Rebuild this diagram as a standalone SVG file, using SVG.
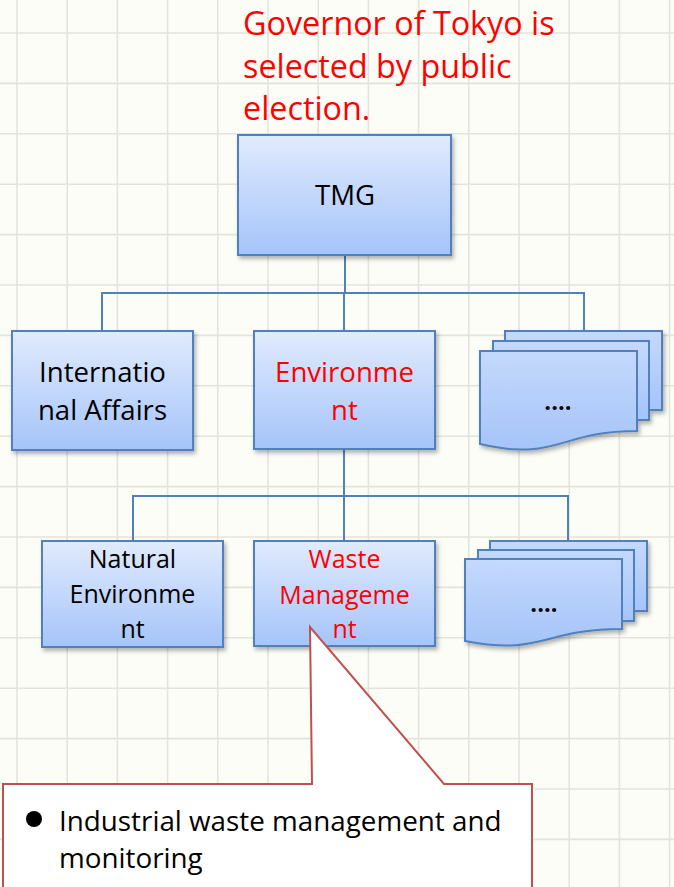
<svg xmlns="http://www.w3.org/2000/svg" width="674" height="887" viewBox="0 0 674 887">
<style>
.box{fill:url(#boxg);stroke:#4F81BD;stroke-width:2;filter:url(#sh)}
.doc{fill:url(#docg);stroke:#4F81BD;stroke-width:2}
.lbl{font-family:"Open Sans","Liberation Sans",sans-serif;font-size:27.6px;text-anchor:middle;fill:#000}
.lbl2{font-family:"Open Sans","Liberation Sans",sans-serif;font-size:25px;text-anchor:middle;fill:#000}
.dots{font-family:"Open Sans","Liberation Sans",sans-serif;font-size:24px;font-weight:bold;text-anchor:middle;fill:#000}
.red{fill:#FF0000}
.conn{fill:none;stroke:#4F81BD;stroke-width:2}
.grid{fill:none;stroke:#E4E4DC;stroke-width:1.6}
</style>
<defs>
<linearGradient id="boxg" x1="0" y1="0" x2="0" y2="1">
<stop offset="0" stop-color="#E1EBFD"/>
<stop offset="1" stop-color="#A5C4F9"/>
</linearGradient>
<linearGradient id="docg" x1="0" y1="0" x2="0" y2="1">
<stop offset="0" stop-color="#C4D9FC"/>
<stop offset="1" stop-color="#A6C4F9"/>
</linearGradient>
<filter id="sh" x="-10%" y="-10%" width="125%" height="130%">
<feDropShadow dx="2" dy="3" stdDeviation="2" flood-color="#000" flood-opacity="0.3"/>
</filter>
</defs>
<rect x="0" y="0" width="674" height="887" fill="#FDFDF8"/>
<path class="grid" d="M17,0V887M67.2,0V887M117.4,0V887M167.6,0V887M217.8,0V887M268,0V887M318.2,0V887M368.4,0V887M418.6,0V887M468.8,0V887M519,0V887M569.2,0V887M619.4,0V887M669.6,0V887M0,33H674M0,83.4H674M0,133.8H674M0,184.2H674M0,234.6H674M0,285H674M0,335.4H674M0,385.8H674M0,436.2H674M0,486.6H674M0,537H674M0,587.4H674M0,637.8H674M0,688.2H674M0,738.6H674M0,789H674M0,839.4H674"/>

<g id="title">
<text font-family="'Open Sans','Liberation Sans',sans-serif" font-size="32.3" fill="#FF0000">
<tspan x="243" y="35">Governor of Tokyo is</tspan>
<tspan x="243" y="78">selected by public</tspan>
<tspan x="243" y="120">election.</tspan>
</text>
</g>

<g id="connectors">
<path class="conn" d="M345,255V293M102,331V293H584V331M344,293V331"/>
<path class="conn" d="M344,449V496M133,541V496H568V541M344,496V541"/>
</g>

<g id="tmg">
<rect class="box" x="238" y="135" width="213" height="120"/>
<text class="lbl" x="345" y="205">TMG</text>
</g>

<g id="intl">
<rect class="box" x="12" y="331" width="181" height="119"/>
<text class="lbl" x="102.5" y="382">Internatio</text>
<text class="lbl" x="102.5" y="420">nal Affairs</text>
</g>

<g id="env">
<rect class="box" x="254" y="331" width="181" height="118"/>
<text class="lbl red" x="344.5" y="382">Environme</text>
<text class="lbl red" x="344.5" y="420">nt</text>
</g>

<g id="others1" filter="url(#sh)">
<rect class="doc" x="505" y="331" width="157" height="79"/>
<rect class="doc" x="493" y="341" width="156" height="79"/>
<path class="doc" d="M480,351H637V431C558,431 558,462 480,444Z"/>
<text class="dots" x="558" y="410">....</text>
</g>

<g id="natural">
<rect class="box" x="42" y="541" width="181" height="106"/>
<text class="lbl2" x="132.5" y="568">Natural</text>
<text class="lbl2" x="132.5" y="603">Environme</text>
<text class="lbl2" x="132.5" y="638">nt</text>
</g>

<g id="waste">
<rect class="box" x="254" y="541" width="181" height="105"/>
<text class="lbl2 red" x="344.5" y="568">Waste</text>
<text class="lbl2 red" x="344.5" y="604">Manageme</text>
<text class="lbl2 red" x="344.5" y="638">nt</text>
</g>

<g id="others2" filter="url(#sh)">
<rect class="doc" x="490" y="541" width="157" height="70"/>
<rect class="doc" x="478" y="550" width="156" height="71"/>
<path class="doc" d="M465,559H622V629C543,629 543,656 465,641Z"/>
<text class="dots" x="544" y="612">....</text>
</g>

<g id="callout">
<path d="M3,784H312L310,627L444,784H532V892H3Z" fill="#FFFFFF" stroke="#C0504D" stroke-width="2"/>
<circle cx="34" cy="819" r="8" fill="#000"/>
<text font-family="'Open Sans','Liberation Sans',sans-serif" font-size="27.8" fill="#000">
<tspan x="59" y="831">Industrial waste management and</tspan>
<tspan x="59" y="868">monitoring</tspan>
</text>
</g>
</svg>
